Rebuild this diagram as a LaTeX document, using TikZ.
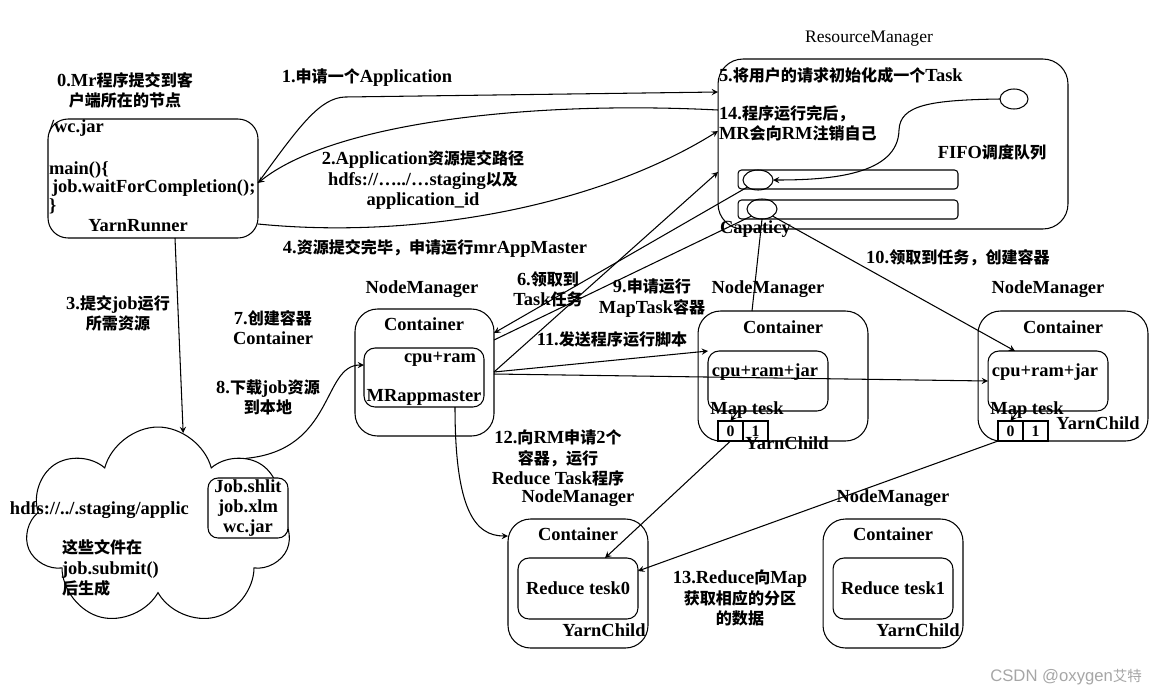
\documentclass[tikz,border=0pt]{standalone}
\usepackage{fontspec}
\setmainfont{Liberation Serif}
\newfontfamily\cjk{Noto Sans CJK SC}[Scale=0.87]
\newfontfamily\wmfont{Liberation Sans}
\usetikzlibrary{shapes.symbols,shapes.geometric}
\newcommand\zh[1]{{\cjk #1}}

\begin{document}
\begin{tikzpicture}[x=0.02cm, y=-0.02cm, >=stealth, line width=0.6pt,
  every node/.style={inner sep=0pt, outer sep=0pt, font=\fontsize{10.5}{11.5}\selectfont\bfseries},
  lbl/.style={align=center},
  bigbox/.style={draw, rounded corners=0.45cm},
  inbox/.style={draw, rounded corners=0.22cm},
  queue/.style={draw, rounded corners=2pt, minimum width=4.4cm, minimum height=0.38cm},
  slot/.style={draw, ellipse, minimum width=0.6cm, minimum height=0.4cm},
  cell/.style={draw, minimum width=0.5cm, minimum height=0.4cm}]
\useasboundingbox (0,0) rectangle (1158,697);

% client side
\node[lbl] (l0) at (125,90) {0.Mr\zh{程序提交到客}\\\zh{户端所在的节点}};
\node[bigbox, rounded corners=0.4cm, minimum width=4.2cm, minimum height=2.38cm] (runner) at (153,178.5) {};
\node[anchor=west] (jar) at (49,128) {/wc.jar};
\node[anchor=west] (main) at (49,170) {main()\{};
\node[anchor=west] (wait) at (52,188) {job.waitForCompletion();};
\node[anchor=west] (close) at (49,206) {\}};
\node (rname) at (138,226) {YarnRunner};

% ResourceManager
\node[font=\fontsize{10}{12}\selectfont] (rmtitle) at (869,39) {ResourceManager};
\node[bigbox, rounded corners=0.5cm, minimum width=7cm, minimum height=3.4cm] (rm) at (893,144) {};
\node[anchor=west] (l5) at (719,75) {5.\zh{将用户的请求初始化成一个}Task};
\node[anchor=west, align=left] (l14) at (719,123) {14.\zh{程序运行完后，}\\MR\zh{会向}RM\zh{注销自己}};
\node[slot, minimum width=0.56cm] (qtop) at (1014,99) {};
\node (fifo) at (992,152) {FIFO\zh{调度队列}};
\node[queue] (bar1) at (848,179.5) {};
\node[queue] (bar2) at (848,209.5) {};
\node[slot] (q1) at (758,180) {};
\node[slot] (q2) at (762,209) {};
\node[anchor=west] (cap) at (720,229) {Capaticy};

% step labels
\node[lbl] (l1) at (367,78) {1.\zh{申请一个}Application};
\node[lbl] (l2) at (423,180) {2.Application\zh{资源提交路径}\\hdfs://…../…staging\zh{以及}\\application\_id};
\node[lbl] (l4) at (435,248) {4.\zh{资源提交完毕，申请运行}mrAppMaster};
\node[lbl] (l3) at (118,313) {3.\zh{提交}job\zh{运行}\\\zh{所需资源}};
\node[lbl] (l7) at (273,328) {7.\zh{创建容器}\\Container};
\node[lbl] (l8) at (268,397) {8.\zh{下载}job\zh{资源}\\\zh{到本地}};
\node[lbl] (l6) at (548,289) {6.\zh{领取到}\\Task\zh{任务}};
\node[lbl] (l9) at (652,298) {9.\zh{申请运行}\\MapTask\zh{容器}};
\node[lbl] (l11) at (612,339) {11.\zh{发送程序运行脚本}};
\node[lbl] (l10) at (958,258) {10.\zh{领取到任务，创建容器}};
\node[lbl] (l12) at (558,458) {12.\zh{向}RM\zh{申请}2\zh{个}\\\zh{容器，运行}\\Reduce Task\zh{程序}};
\node[lbl] (l13) at (740,598) {13.Reduce\zh{向}Map\\\zh{获取相应的分区}\\\zh{的数据}};

% hdfs
\node[draw, cloud, cloud puffs=7, aspect=1.3, minimum width=5.3cm, minimum height=4cm] (cloud) at (158,527) {};
\node[anchor=west] (hdfs) at (10,510) {hdfs://../.staging/applic};
\node[draw, fill=white, rounded corners=0.2cm, minimum width=1.6cm, minimum height=1.2cm] (files) at (248,508) {};
\node[lbl] (filetxt) at (248,508) {Job.shlit\\job.xlm\\wc.jar};
\node[anchor=west, align=left] (after) at (62,568) {\zh{这些文件在}\\job.submit()\\\zh{后生成}};

% NodeManager 1
\node (nm1) at (422,289) {NodeManager};
\node[bigbox, minimum width=2.78cm, minimum height=2.54cm] (c1) at (424.5,372.5) {};
\node (ct1) at (424,324) {Container};
\node[inbox, minimum width=2.4cm, minimum height=1.18cm] (inner1) at (424,377.5) {};
\node (cpu1) at (440,359) {cpu+ram};
\node (mrapp) at (424,397) {MRappmaster};

% NodeManager 2 and 3
\node (nm2) at (768,289) {NodeManager};
\node[bigbox, minimum width=3.4cm, minimum height=2.6cm] (c2) at (783,376) {};
\node (ct2) at (783,327) {Container};
\node[inbox, minimum width=2.4cm, minimum height=1.2cm] (inner2) at (768,381) {};
\node (cpu2) at (765,372) {cpu+ram+jar};
\node (map2) at (747,410) {Map tesk};
\node[cell] (c20) at (730.5,431) {\fontsize{9}{10}\selectfont 0};
\node[cell] (c21) at (755.5,431) {\fontsize{9}{10}\selectfont 1};
\node (yc2) at (787,443) {YarnChild};

\node (nm3) at (1048,289) {NodeManager};
\node[bigbox, minimum width=3.4cm, minimum height=2.6cm] (c3) at (1063,376) {};
\node (ct3) at (1063,327) {Container};
\node[inbox, minimum width=2.4cm, minimum height=1.2cm] (inner3) at (1048,381) {};
\node (cpu3) at (1045,372) {cpu+ram+jar};
\node (map3) at (1027,410) {Map tesk};
\node[cell] (c30) at (1010.5,431) {\fontsize{9}{10}\selectfont 0};
\node[cell] (c31) at (1035.5,431) {\fontsize{9}{10}\selectfont 1};
\node (yc3) at (1098,423) {YarnChild};

% NodeManager 4 and 5
\node (nm4) at (578,498) {NodeManager};
\node[bigbox, minimum width=2.8cm, minimum height=2.58cm] (c4) at (578,583.5) {};
\node (ct4) at (578,534) {Container};
\node[inbox, minimum width=2.4cm, minimum height=1.22cm] (inner4) at (578,588.5) {};
\node (red0) at (578,588) {Reduce tesk0};
\node (yc4) at (604,630) {YarnChild};

\node (nm5) at (893,498) {NodeManager};
\node[bigbox, minimum width=2.8cm, minimum height=2.58cm] (c5) at (893,583.5) {};
\node (ct5) at (893,534) {Container};
\node[inbox, minimum width=2.4cm, minimum height=1.22cm] (inner5) at (893,588.5) {};
\node (red1) at (893,588) {Reduce tesk1};
\node (yc5) at (918,630) {YarnChild};

\node[anchor=east, font=\fontsize{9.5}{11}\selectfont\wmfont, text=gray!70] (wm) at (1142,677) {CSDN @oxygen{\cjk 艾特}};

% connectors
\draw[->] (runner.east |- 0,183) .. controls (300,125) and (320,98) .. (345,97) -- (rm.west |- 0,92);
\draw[->] (rm.west |- 0,110) .. controls (520,100) and (330,125) .. (runner.east |- 0,183);
\draw[->] (runner.east |- 0,224) .. controls (420,240) and (600,205) .. (rm.west |- 0,131);
\draw[->] (runner.south -| 175,0) -- (cloud.75);
\draw[->] (cloud.38) .. controls (335,450) and (322,365) .. (inner1.west |- 0,365);
\draw[->] (qtop.west) .. controls (930,100) and (900,105) .. (899,130) .. controls (898,175) and (830,180) .. (q1.east);
\draw[->] (q1.south west) -- (c1.east |- 0,333);
\draw (c1.east |- 0,340) -- (q2.south west);
\draw[->] (c1.east |- 0,372) -- (rm.west |- 0,172);
\draw[->] (c1.east |- 0,372) -- (inner2.north west);
\draw[->] (c1.east |- 0,374) -- (inner3.west |- 0,381);
\draw (c2.north -| 752,0) -- (q2.south);
\draw[->] (q2.south east) -- (inner3.north -| 1015,0);
\draw[->] (inner2.south -| 738,0) -- (c20.north);
\draw[->] (inner3.south -| 1018,0) -- (c30.north);
\draw[->] (inner1.south -| 455,0) .. controls (455,510) and (475,536) .. (c4.west |- 0,536);
\draw[->] (c20.south) -- (inner4.north -| 605,0);
\draw[->] (c30.south west) -- (inner4.east |- 0,571);
\end{tikzpicture}
\end{document}
